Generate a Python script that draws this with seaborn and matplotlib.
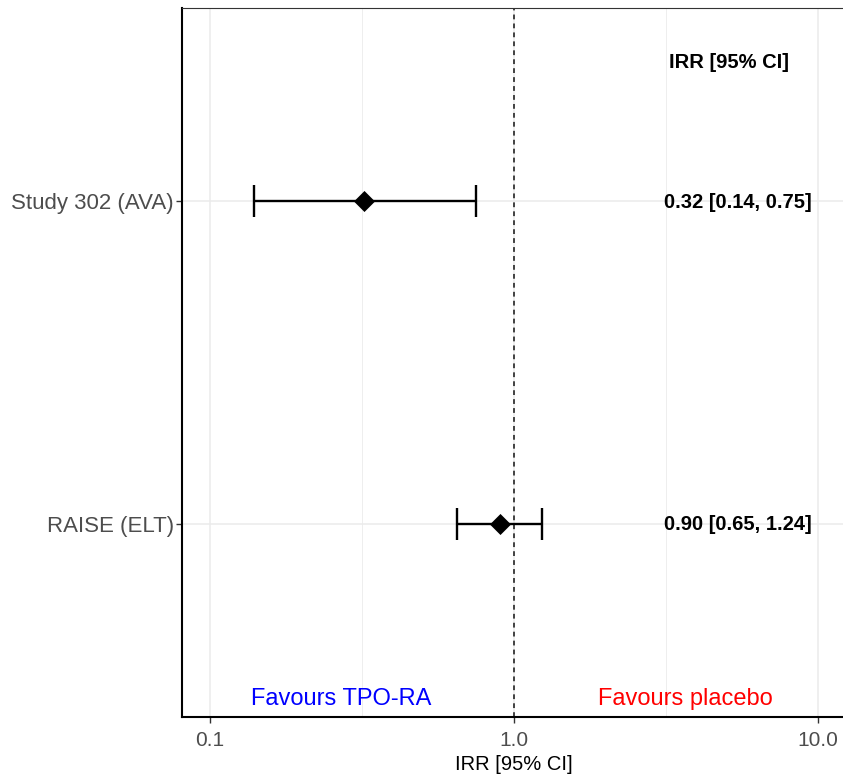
import numpy as np
import pandas as pd
import matplotlib
matplotlib.use("Agg")
import matplotlib.pyplot as plt
from matplotlib.ticker import FixedLocator, NullFormatter
import seaborn as sns

# ---- data ----
studies = ["Study 302 (AVA)", "RAISE (ELT)"]
irr = [0.32, 0.90]
ci_low = [0.14, 0.65]
ci_high = [0.75, 1.24]
ci_labels = ["0.32 [0.14, 0.75]", "0.90 [0.65, 1.24]"]
x_ticks = [0.1, 1.0, 10.0]
x_ticklabels = ["0.1", "1.0", "10.0"]
header_text = "IRR [95% CI]"
x_label = "IRR [95% CI]"
favour_left = "Favours TPO-RA"
favour_right = "Favours placebo"

df = pd.DataFrame({"study": studies, "irr": irr, "lo": ci_low, "hi": ci_high,
                   "label": ci_labels})
df["pos"] = np.arange(len(df), 0, -1)  # top to bottom

sns.set_theme(style="white")
plt.rcParams["font.family"] = ["Liberation Sans", "DejaVu Sans"]

fig = plt.figure(figsize=(8.43, 7.78), dpi=100)
ax = fig.add_axes([182 / 843, 61 / 778, (846 - 182) / 843, (717 - 8) / 778])

ax.set_xscale("log")
xmin = 10 ** (-1 - 28 / 304)
xmax = 10 ** (1 + 28 / 304)
ax.set_xlim(xmin, xmax)
ax.set_ylim(0.4, 2.6)

# grid
grid_c = "#EBEBEB"
for v in x_ticks:
    ax.axvline(v, color=grid_c, lw=1.1, zorder=0)
for v in [10 ** -0.5, 10 ** 0.5]:
    ax.axvline(v, color=grid_c, lw=0.6, zorder=0)
for p in df["pos"]:
    ax.axhline(p, color=grid_c, lw=1.1, zorder=0)

# reference line
ax.axvline(1.0, color="#1A1A1A", lw=1.15, linestyle=(0, (3.0, 2.6)), zorder=1)

# CIs
ax.errorbar(df["irr"], df["pos"],
            xerr=[df["irr"] - df["lo"], df["hi"] - df["irr"]],
            fmt="none", ecolor="black", elinewidth=1.7, capsize=11.8,
            capthick=1.7, zorder=2)
# points
sns.scatterplot(data=df, x="irr", y="pos", marker="D", s=115, color="black",
                edgecolor="black", linewidth=0, ax=ax, zorder=3, legend=False)

# right-hand text
for _, r in df.iterrows():
    ax.text(5.44, r["pos"] - 0.003, r["label"], ha="center", va="center",
            fontsize=14.5, fontweight="bold", color="black")
ax.text(5.1, 2.43, header_text, ha="center", va="center", fontsize=14.5,
        fontweight="bold", color="black")

ax.text(0.27, 0.455, favour_left, ha="center", va="center", fontsize=17,
        color="#0000FF")
ax.text(3.66, 0.455, favour_right, ha="center", va="center", fontsize=17,
        color="#FF0000")

# axes styling
ax.xaxis.set_major_locator(FixedLocator(x_ticks))
ax.set_xticklabels(x_ticklabels)
ax.xaxis.set_minor_formatter(NullFormatter())
ax.xaxis.set_minor_locator(FixedLocator([]))
ax.set_yticks(df["pos"])
ax.set_yticklabels(df["study"])
ax.tick_params(axis="x", labelsize=15, labelcolor="#4D4D4D", length=4,
               width=1, color="#333333", pad=6, bottom=True)
ax.tick_params(axis="y", labelsize=16, labelcolor="#4D4D4D", length=4,
               width=1, color="#333333", pad=2, left=True)
ax.set_xlabel(x_label, fontsize=14.5, color="black", labelpad=4)
ax.set_ylabel("")

for side in ["left", "bottom"]:
    ax.spines[side].set_color("black")
    ax.spines[side].set_linewidth(1.5)
ax.spines["top"].set_color("#333333")
ax.spines["top"].set_linewidth(0.8)
ax.spines["right"].set_visible(False)

fig.savefig("out.png", dpi=100)
